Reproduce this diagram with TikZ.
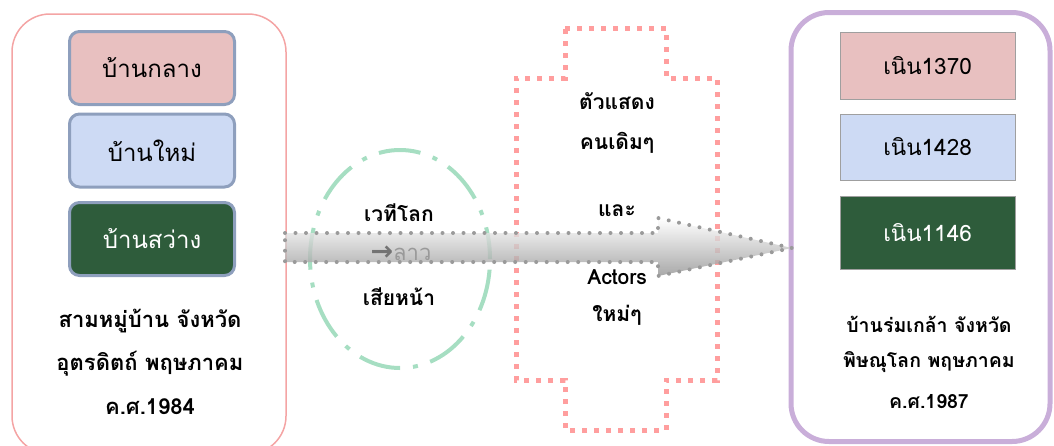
\documentclass[tikz,border=0pt]{standalone}
\usepackage{fontspec}
\newfontfamily\thai[Script=Thai]{Loma}
\newfontfamily\dejavu{DejaVu Sans}
\usetikzlibrary{shapes.geometric}
\definecolor{pinkline}{HTML}{F4A4A4}
\definecolor{purpline}{HTML}{C9AED9}
\definecolor{boxedge}{HTML}{8E9FBD}
\definecolor{fillpink}{HTML}{E8C0C0}
\definecolor{fillblue}{HTML}{CDDAF4}
\definecolor{fillgreen}{HTML}{2E5C3B}
\definecolor{greendash}{HTML}{A6DEC2}
\definecolor{crosspink}{HTML}{FF9E9E}
\definecolor{dotgray}{HTML}{9A9A9A}
\begin{document}
\begin{tikzpicture}[x=1pt,y=-1pt,
  container/.style={draw, rounded corners=38pt, inner sep=0pt},
  leftbox/.style={draw=boxedge, line width=3pt, rounded corners=10pt,
    minimum width=165pt, minimum height=73pt, inner sep=0pt,
    font=\thai\fontsize{24}{28}\selectfont},
  rightbox/.style={draw=gray!75, line width=0.8pt,
    minimum width=175pt, inner sep=0pt,
    font=\thai\fontsize{22.5}{26}\selectfont},
  caption/.style={font=\thai\bfseries\fontsize{22}{26}\selectfont, inner sep=0pt},
  rcaption/.style={font=\thai\bfseries\fontsize{19.5}{23}\selectfont, inner sep=0pt},
  midtext/.style={font=\thai\bfseries\fontsize{21}{24}\selectfont, inner sep=0pt},
]
\useasboundingbox (0,0) rectangle (1054,445);

% left container
\node[container, draw=pinkline, line width=1.5pt, minimum width=274pt, minimum height=440pt] (leftc) at (149,234) {};
\node[leftbox, fill=fillpink] (b1) at (152,68) {บ้านกลาง};
\node[leftbox, fill=fillblue] (b2) at (152,150.5) {บ้านใหม่};
\node[leftbox, fill=fillgreen, text=white] (b3) at (152,239) {บ้านสว่าง};
\node[caption] (l1) at (150,321) {สามหมู่บ้าน จังหวัด};
\node[caption] (l2) at (150,364) {อุตรดิตถ์ พฤษภาคม};
\node[caption] (l3) at (150,407) {ค.ศ.1984};

% right container
\node[container, draw=purpline, line width=5pt, minimum width=259pt, minimum height=429pt] (rightc) at (920.5,227) {};
\node[rightbox, fill=fillpink, minimum height=67pt] (r1) at (927.5,65.5) {เนิน1370};
\node[rightbox, fill=fillblue, minimum height=66pt] (r2) at (927.5,147) {เนิน1428};
\node[rightbox, fill=fillgreen, text=white, minimum height=73pt] (r3) at (927.5,232.5) {เนิน1146};
\node[rcaption] (rc1) at (929,324) {บ้านร่มเกล้า จังหวัด};
\node[rcaption] (rc2) at (929,362) {พิษณุโลก พฤษภาคม};
\node[rcaption] (rc3) at (929,402) {ค.ศ.1987};

% green dash-dot ellipse
\node[ellipse, draw=greendash, line width=4pt, minimum width=180pt, minimum height=218pt,
  dash pattern=on 42pt off 13pt on 5pt off 13pt, dash phase=10pt] (circ) at (400,259) {};
\node[midtext] (w1) at (399,213) {เวทีโลก};
\node[midtext] (w3) at (399,297) {เสียหน้า};

% pink dotted cross shape
\draw[crosspink, line width=5pt, dash pattern=on 5pt off 7pt]
  (565,28) -- (666,28) -- (666,78) -- (717,78) -- (717,380) -- (666,380) -- (666,430)
  -- (565,430) -- (565,380) -- (516,380) -- (516,78) -- (565,78) -- cycle;
\node[midtext] (m1) at (617,101) {ตัวแสดง};
\node[midtext] (m2) at (617,143) {คนเดิมๆ};
\node[midtext] (m3) at (617,211) {และ};
\node[midtext] (m4) at (617,277) {Actors};
\node[midtext] (m5) at (617,315) {ใหม่ๆ};

% big arrow
\coordinate (a1) at (285,233);
\coordinate (a2) at (658,233);
\coordinate (a3) at (658,218);
\coordinate (tip) at (792,248);
\coordinate (a5) at (658,276);
\coordinate (a6) at (658,262);
\coordinate (a7) at (285,262);
\shade[top color=white, bottom color=gray!85, fill opacity=0.8]
  (a1) -- (a2) -- (a3) -- (tip) -- (a5) -- (a6) -- (a7) -- cycle;
\draw[dotgray, line width=4pt, line cap=round, dash pattern=on 0pt off 10.5pt]
  (a1) -- (a2) -- (a3) -- (tip) -- (a5) -- (a6) -- (a7) -- cycle;

\node[inner sep=0pt] (w2) at (401,253) {{\dejavu\bfseries\fontsize{27}{28}\selectfont\textcolor{gray!90!black}{→}}{\thai\fontsize{22}{26}\selectfont\textcolor{gray!80}{ลาว}}};
\end{tikzpicture}
\end{document}
